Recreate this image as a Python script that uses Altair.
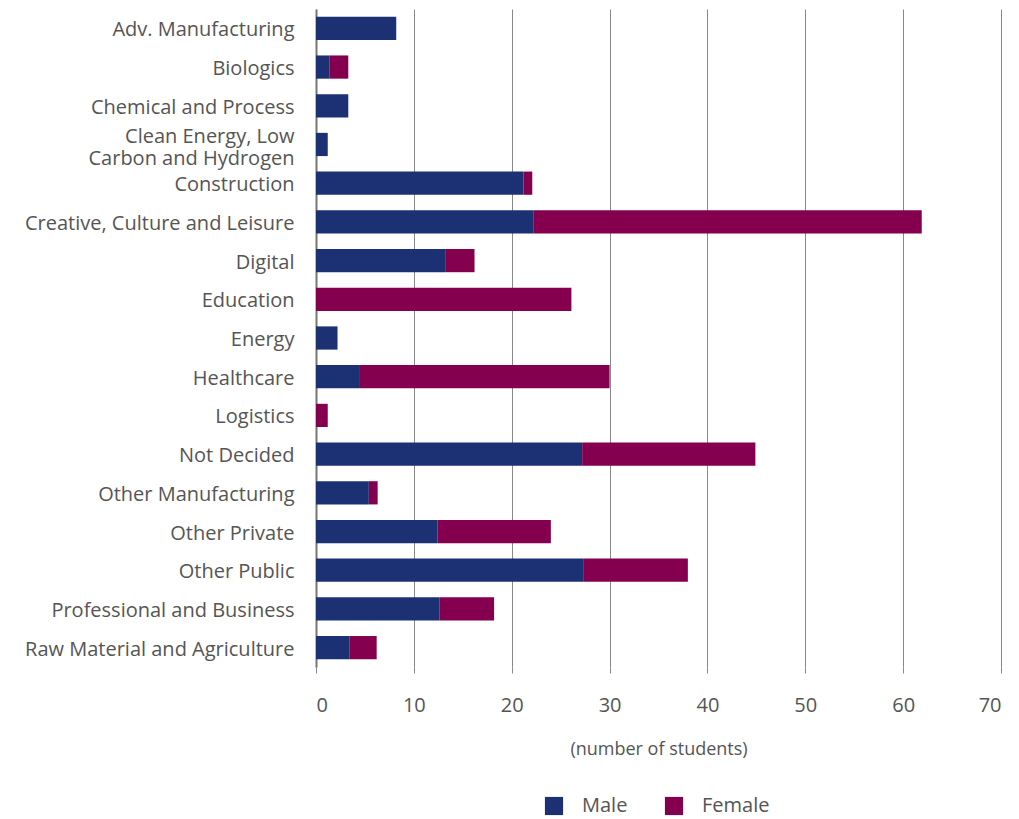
import altair as alt
import pandas as pd

categories = [
    "Adv. Manufacturing", "Biologics", "Chemical and Process",
    "Clean Energy, Low Carbon and Hydrogen", "Construction",
    "Creative, Culture and Leisure", "Digital", "Education", "Energy",
    "Healthcare", "Logistics", "Not Decided", "Other Manufacturing",
    "Other Private", "Other Public", "Professional and Business",
    "Raw Material and Agriculture",
]
male = [8.2, 1.4, 3.3, 1.2, 21.2, 22.2, 13.2, 0, 2.2, 4.4, 0, 27.2, 5.4, 12.4, 27.3, 12.6, 3.4]
female = [0, 1.9, 0, 0, 0.9, 39.7, 3.0, 26.1, 0, 25.6, 1.2, 17.7, 0.9, 11.6, 10.7, 5.6, 2.8]
series = ["Male", "Female"]
colors = ["#1b3174", "#84004e"]

rows = []
for c, m, f in zip(categories, male, female):
    rows.append({"category": c, "gender": "Male", "value": m, "ord": 0})
    rows.append({"category": c, "gender": "Female", "value": f, "ord": 1})
df = pd.DataFrame(rows)

FONT = "Open Sans"
CLEAN = "Clean Energy, Low Carbon and Hydrogen"

chart = alt.Chart(df).mark_bar().encode(
    y=alt.Y("category:N", sort=categories,
            scale=alt.Scale(paddingInner=0.4, paddingOuter=0.2),
            axis=alt.Axis(title=None, ticks=False, domain=True, domainColor="#777",
                          domainWidth=2, labelFontSize=20, labelColor="#555",
                          labelFont=FONT, labelPadding=22, labelLineHeight=22,
                          labelLimit=400,
                          labelOffset={"condition": {"test": f"datum.label == '{CLEAN}'", "value": -7}, "value": 2},
                          labelExpr=f"datum.label == '{CLEAN}' ? ['Clean Energy, Low', 'Carbon and Hydrogen'] : datum.label")),
    x=alt.X("value:Q", stack="zero",
            scale=alt.Scale(domain=[0, 70], nice=False),
            axis=alt.Axis(title="(number of students)", values=[0, 10, 20, 30, 40, 50, 60, 70],
                          grid=True, gridColor="#888", gridWidth=1, domain=False,
                          ticks=True, tickSize=6, tickColor="#888",
                          labelFontSize=20, labelColor="#555", labelFont=FONT,
                          labelPadding=22, titleFontSize=18, titleColor="#555",
                          titleFont=FONT, titleFontWeight="normal", titlePadding=25)),
    color=alt.Color("gender:N", sort=series,
                    scale=alt.Scale(domain=series, range=colors),
                    legend=alt.Legend(title=None, orient="none", direction="horizontal",
                                      legendX=228, legendY=787,
                                      symbolType="square", symbolSize=330,
                                      symbolStrokeWidth=0, labelFontSize=20,
                                      labelColor="#555", labelFont=FONT,
                                      labelOffset=18, columnPadding=36)),
    order=alt.Order("ord:Q"),
).properties(width=685, height=658,
             padding={"left": 16, "top": 1, "right": 5, "bottom": 5}
).configure_view(stroke=None)

chart.save("out.html", embed_options={"renderer": "svg", "actions": False})
